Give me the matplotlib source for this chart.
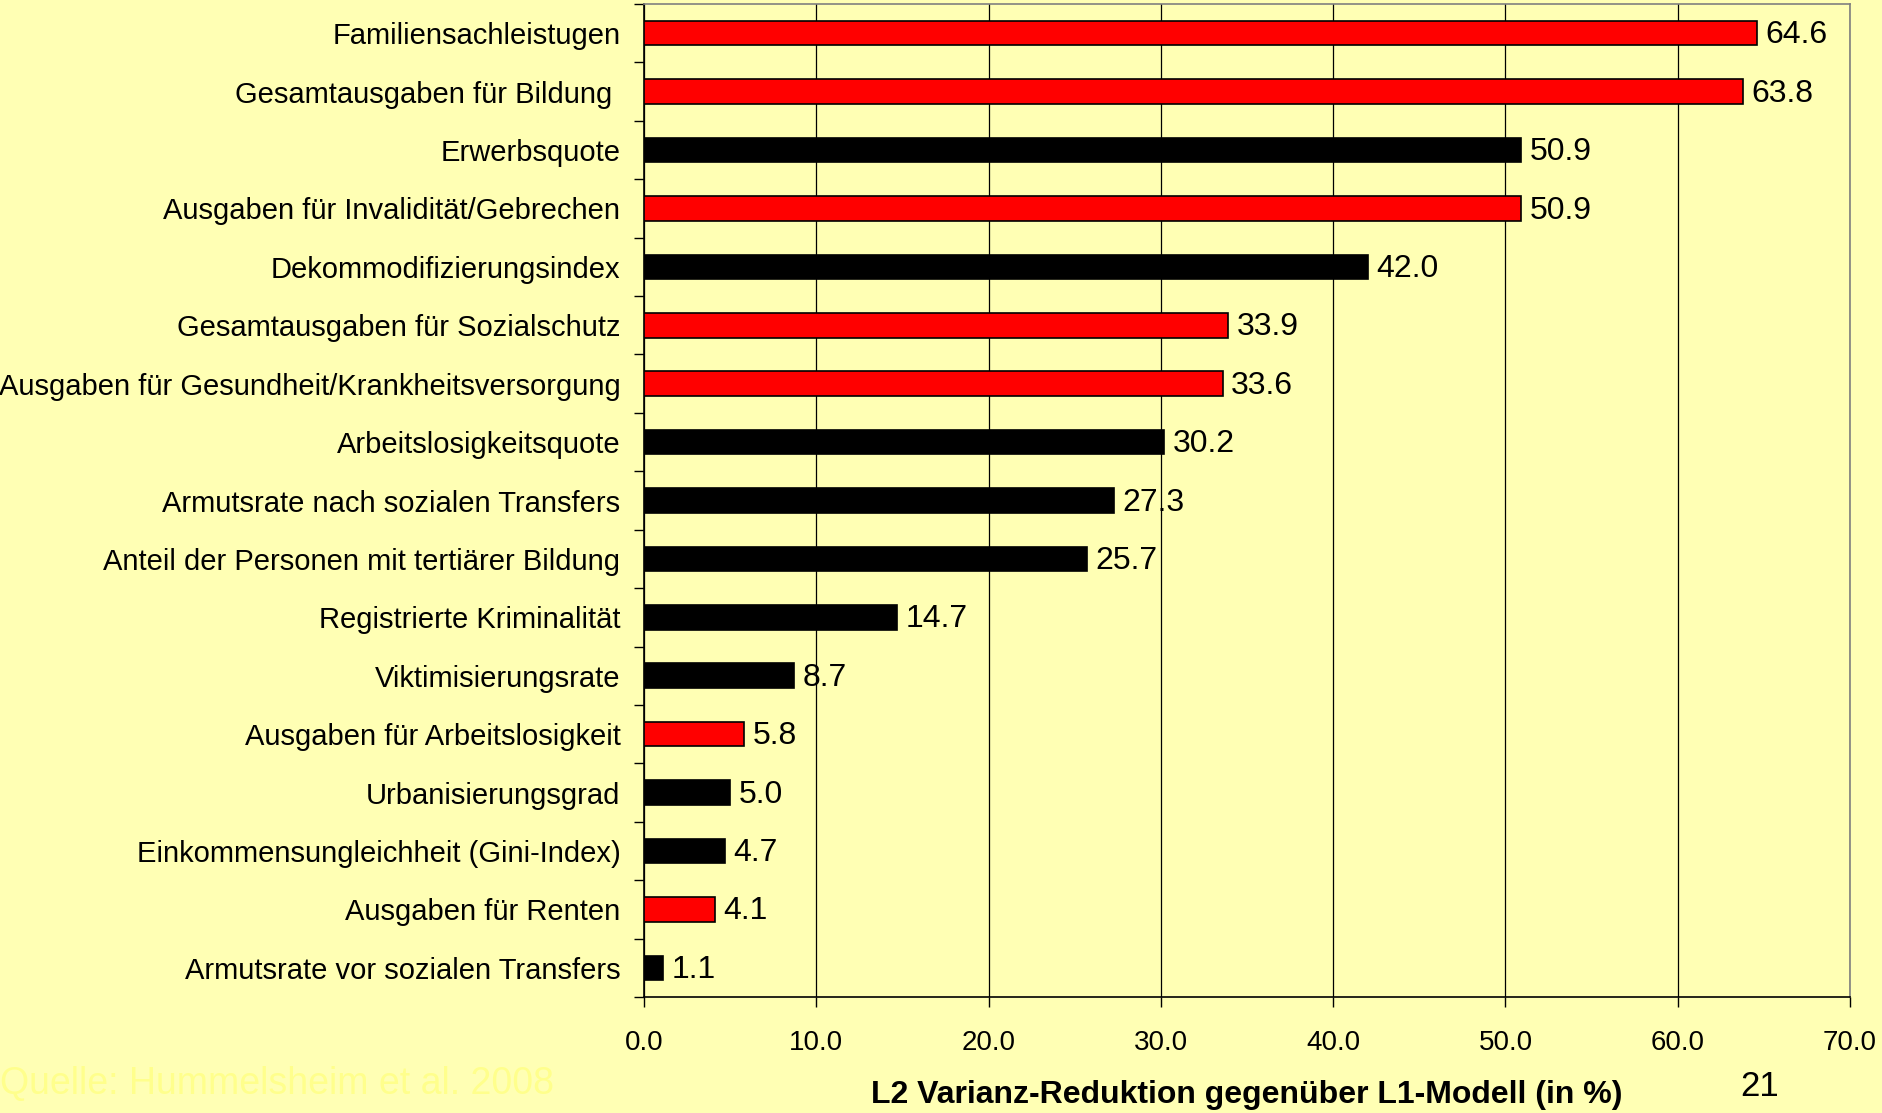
import numpy as np
import matplotlib
matplotlib.use("Agg")
import matplotlib.pyplot as plt
from matplotlib.ticker import FixedLocator

# data, top to bottom as in the chart
labels = [
    "Familiensachleistugen",
    "Gesamtausgaben für Bildung ",
    "Erwerbsquote",
    "Ausgaben für Invalidität/Gebrechen",
    "Dekommodifizierungsindex",
    "Gesamtausgaben für Sozialschutz",
    "Ausgaben für Gesundheit/Krankheitsversorgung",
    "Arbeitslosigkeitsquote",
    "Armutsrate nach sozialen Transfers",
    "Anteil der Personen mit tertiärer Bildung",
    "Registrierte Kriminalität",
    "Viktimisierungsrate",
    "Ausgaben für Arbeitslosigkeit",
    "Urbanisierungsgrad",
    "Einkommensungleichheit (Gini-Index)",
    "Ausgaben für Renten",
    "Armutsrate vor sozialen Transfers",
]
values = [64.6, 63.8, 50.9, 50.9, 42.0, 33.9, 33.6, 30.2, 27.3, 25.7,
          14.7, 8.7, 5.8, 5.0, 4.7, 4.1, 1.1]
is_spending = [True, True, False, True, False, True, True, False, False, False,
               False, False, True, False, False, True, False]
xticks = [0, 10, 20, 30, 40, 50, 60, 70]

BG = "#FFFFB4"
plt.rcParams['font.family'] = ['Liberation Sans', 'DejaVu Sans']

W, H = 1883, 1113
fig = plt.figure(figsize=(W / 100, H / 100), dpi=100, facecolor=BG)
ax = fig.add_axes([644 / W, 1 - 997 / H, (1850 - 644) / W, (997 - 4) / H])
ax.set_facecolor(BG)

y = np.arange(len(labels))
colors = ["#FF0000" if s else "#000000" for s in is_spending]
ax.barh(y, values, height=0.42, color=colors, edgecolor="black",
        linewidth=1.2, zorder=3)

for yi, v in zip(y, values):
    ax.annotate(f"{v:.1f}", (v, yi), xytext=(6, -1.5), textcoords="offset points",
                ha="left", va="center", fontsize=23, zorder=4)

ax.set_xlim(0, 70)
ax.set_ylim(len(labels) - 0.5, -0.5)
ax.set_xticks(xticks)
ax.set_xticklabels([f"{t:.1f}" for t in xticks], fontsize=20)
ax.set_yticks(y)
ax.set_yticklabels(labels, fontsize=21)
ax.yaxis.set_minor_locator(FixedLocator(np.arange(-0.5, len(labels), 1.0)))

ax.tick_params(axis="y", which="major", length=0, pad=17)
ax.tick_params(axis="y", which="minor", length=7, width=1, color="black", direction="out")
ax.tick_params(axis="x", length=7, width=1, color="black", direction="out", pad=17)

ax.xaxis.grid(True, color="black", linewidth=0.9, zorder=1)
ax.set_axisbelow(True)

for side in ("top", "right"):
    ax.spines[side].set_color("#808080")
    ax.spines[side].set_linewidth(1.2)
for side in ("left", "bottom"):
    ax.spines[side].set_color("black")
    ax.spines[side].set_linewidth(1.2)

fig.text(1247 / W, 1 - 1095 / H, "L2 Varianz-Reduktion gegenüber L1-Modell (in %)",
         ha="center", va="center", fontsize=23, fontweight="bold")
fig.text(1760 / W, 1 - 1087 / H, "21", ha="center", va="center", fontsize=25)
fig.text(0.0, 1 - 1084 / H, "Quelle: Hummelsheim et al. 2008", ha="left",
         va="center", fontsize=27, color="#FFFF8C")

fig.savefig("out.png", dpi=100, facecolor=BG)
